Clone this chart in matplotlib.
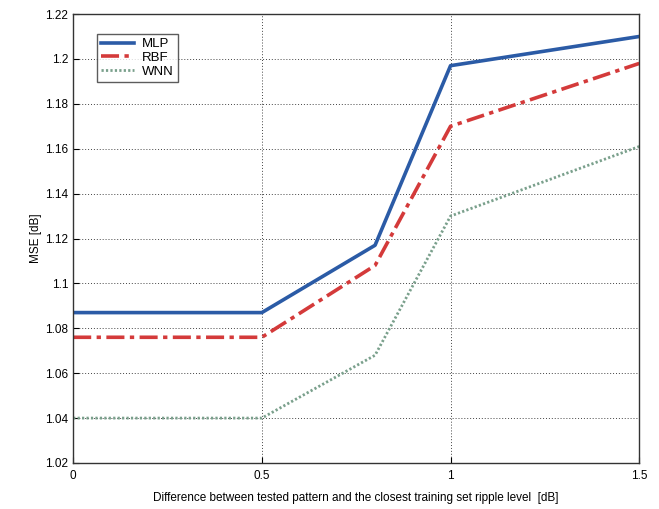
import matplotlib
matplotlib.use("Agg")
import matplotlib.pyplot as plt

x = [0, 0.5, 0.8, 1.0, 1.5]
mlp = [1.087, 1.087, 1.117, 1.197, 1.210]
rbf = [1.076, 1.076, 1.108, 1.170, 1.198]
wnn = [1.040, 1.040, 1.068, 1.130, 1.161]
yticks = [1.02, 1.04, 1.06, 1.08, 1.10, 1.12, 1.14, 1.16, 1.18, 1.20, 1.22]
ytick_labels = ["1.02", "1.04", "1.06", "1.08", "1.1", "1.12", "1.14", "1.16", "1.18", "1.2", "1.22"]
xticks = [0, 0.5, 1, 1.5]
xtick_labels = ["0", "0.5", "1", "1.5"]

plt.rcParams['font.family'] = ['Liberation Sans', 'DejaVu Sans']

fig = plt.figure(figsize=(6.59, 5.09), dpi=100)
ax = fig.add_axes([0.111, 0.0904, 0.859, 0.882])

ax.plot(x, mlp, color='#2b5ba6', lw=2.6, label='MLP')
ax.plot(x, rbf, color='#d43a3a', lw=2.6, ls=(0, (5, 1.5, 1.2, 1.5)), label='RBF')
ax.plot(x, wnn, color='#7aa08c', lw=2.0, ls=(0, (0.8, 0.8)), label='WNN')

ax.set_xlim(0, 1.5)
ax.set_ylim(1.02, 1.22)
ax.set_xticks(xticks)
ax.set_xticklabels(xtick_labels)
ax.set_yticks(yticks)
ax.set_yticklabels(ytick_labels)
ax.tick_params(direction='in', labelsize=8.5, length=4, width=0.8)
ax.tick_params(axis='x', pad=5)
ax.grid(True, color='#444444', ls=(0, (1, 2)), lw=0.7)
for s in ax.spines.values():
    s.set_linewidth(1.0)
    s.set_color('#333333')

ax.set_xlabel('Difference between tested pattern and the closest training set ripple level  [dB]', fontsize=8.5, labelpad=7)
ax.set_ylabel('MSE [dB]', fontsize=8.5, labelpad=2)

leg = ax.legend(loc='upper left', bbox_to_anchor=(0.043, 0.955), fontsize=9.5, frameon=True, fancybox=False,
                edgecolor='#333333', handlelength=2.5, borderpad=0.3, labelspacing=0.1, handletextpad=0.6,
                borderaxespad=0)
leg.get_frame().set_linewidth(1.0)

fig.savefig('out.png', dpi=100)
